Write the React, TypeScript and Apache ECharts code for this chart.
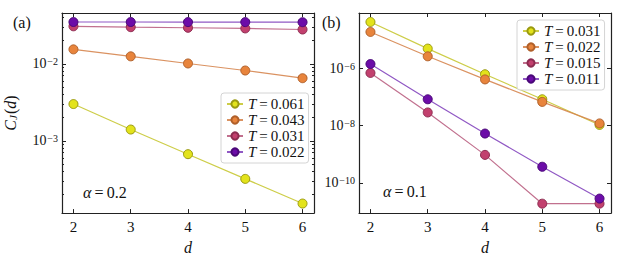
import React, { useEffect, useRef } from "react";
import * as echarts from "echarts";

const D = [2, 3, 4, 5, 6];
const X_TICKS = [2, 3, 4, 5, 6];

// panel (a): alpha = 0.2
const A_TEMPS = ["0.061", "0.043", "0.031", "0.022"];
const A_T061 = [3.0e-3, 1.4e-3, 6.7e-4, 3.2e-4, 1.53e-4];
const A_T043 = [0.0154, 0.0125, 0.0101, 0.00818, 0.0065];
const A_T031 = [0.0307, 0.0299, 0.0294, 0.0288, 0.0279];
const A_T022 = [0.0349, 0.0349, 0.0348, 0.0348, 0.0347];
const A_MAJOR_EXP = [-3, -2];

// panel (b): alpha = 0.1
const B_TEMPS = ["0.031", "0.022", "0.015", "0.011"];
const B_T031 = [4.27e-5, 4.99e-6, 6.3e-7, 8.4e-8, 1.06e-8];
const B_T022 = [1.91e-5, 2.68e-6, 4.16e-7, 6.8e-8, 1.2e-8];
const B_T015 = [7.0e-7, 2.9e-8, 9.5e-10, 1.86e-11, 1.86e-11];
const B_T011 = [1.44e-6, 8.4e-8, 5.3e-9, 3.65e-10, 2.8e-11];
const B_MAJOR_EXP = [-10, -8, -6];

const A_MIN = 1.15e-4;
const A_MAX = 0.0457;
const B_MIN = 8.7e-12;
const B_MAX = 8.8e-5;
const X_MIN = 1.8;
const X_MAX = 6.2;

const COLORS = [
  { fill: "#e3e31b", border: "#9a9a10", line: "rgba(196,196,40,0.85)" },
  { fill: "#e8843c", border: "#b0602a", line: "rgba(214,134,80,0.9)" },
  { fill: "#c2406e", border: "#8c2c50", line: "rgba(186,96,130,0.9)" },
  { fill: "#6c0ca8", border: "#4a0878", line: "rgba(132,70,190,0.9)" },
];

const FONT = "'Liberation Serif', 'DejaVu Serif', serif";
const AXIS_COLOR = "#222";

function minorPositions(lo: number, hi: number): number[] {
  const out: number[] = [];
  for (let n = Math.floor(lo) - 1; n <= Math.ceil(hi); n++) {
    for (let k = 2; k <= 9; k++) {
      const v = n + Math.log10(k);
      if (v > lo && v < hi) out.push(v);
    }
  }
  return out;
}

const labelRich = {
  b: { fontSize: 14, lineHeight: 14, fontFamily: FONT, color: "#111", verticalAlign: "bottom" },
  e: { fontSize: 10, lineHeight: 10, fontFamily: FONT, color: "#111", verticalAlign: "top", padding: [0, 0, 5, 1] },
};

function yOverlay(gridIndex: number, lo: number, hi: number, side: "left" | "right", ticks: number[], len: number, labels: boolean, showLine: boolean, extra: any = {}) {
  return {
    type: "value",
    gridIndex,
    position: side,
    min: lo,
    max: hi,
    splitLine: { show: false },
    axisLine: { show: showLine, onZero: false, lineStyle: { color: AXIS_COLOR, width: 1.2 } },
    axisTick: { show: true, inside: true, length: len, customValues: ticks, lineStyle: { color: AXIS_COLOR, width: 1 } },
    axisLabel: labels
      ? {
          show: true,
          margin: 4,
          customValues: ticks,
          fontFamily: FONT,
          formatter: (v: number) => `{b|10}{e|\u2212${Math.abs(Math.round(v))}}`,
          rich: labelRich,
        }
      : { show: false },
    ...extra,
  };
}

function xAxes(gridIndex: number) {
  return [
    {
      type: "value",
      gridIndex,
      position: "bottom",
      min: X_MIN,
      max: X_MAX,
      splitLine: { show: false },
      axisLine: { show: true, onZero: false, lineStyle: { color: AXIS_COLOR, width: 1.2 } },
      axisTick: { show: true, inside: true, length: 4, customValues: X_TICKS, lineStyle: { color: AXIS_COLOR } },
      axisLabel: { show: true, margin: 6, customValues: X_TICKS, fontSize: 15, fontFamily: FONT, color: "#111" },
      name: "d",
      nameLocation: "middle",
      nameGap: 14,
      nameTextStyle: { fontSize: 16, fontStyle: "italic", fontFamily: FONT, color: "#111" },
    },
    {
      type: "value",
      gridIndex,
      position: "top",
      min: X_MIN,
      max: X_MAX,
      splitLine: { show: false },
      axisLine: { show: true, onZero: false, lineStyle: { color: AXIS_COLOR, width: 1.2 } },
      axisTick: { show: true, inside: true, length: 4, customValues: X_TICKS, lineStyle: { color: AXIS_COLOR } },
      axisLabel: { show: false },
    },
  ];
}

function makeSeries(prefix: string, temps: string[], values: number[][], xIdx: number, yIdx: number) {
  return temps.map((t, i) => ({
    type: "line",
    name: `${prefix}:${t}`,
    xAxisIndex: xIdx,
    yAxisIndex: yIdx,
    data: D.map((d, j) => [d, values[i][j]]),
    symbol: "circle",
    symbolSize: 9,
    lineStyle: { color: COLORS[i].line, width: 1.2 },
    itemStyle: { color: COLORS[i].fill, borderColor: COLORS[i].border, borderWidth: 1 },
    z: 3 + i,
  }));
}

function legend(prefix: string, temps: string[], left: number, top: number) {
  return {
    orient: "vertical",
    left,
    top,
    data: temps.map((t) => `${prefix}:${t}`),
    itemWidth: 16,
    itemHeight: 9,
    itemGap: 0,
    padding: [3, 4, 3, 5],
    borderColor: "#d4d4d4",
    borderWidth: 1,
    borderRadius: 3,
    backgroundColor: "rgba(255,255,255,0.85)",
    formatter: (name: string) => `{i|T}{n|\u2009=\u2009${name.split(":")[1]}}`,
    textStyle: {
      fontFamily: FONT,
      fontSize: 15,
      lineHeight: 16,
      color: "#111",
      rich: {
        i: { fontFamily: FONT, fontSize: 15, fontStyle: "italic", lineHeight: 16, color: "#111" },
        n: { fontFamily: FONT, fontSize: 15, lineHeight: 16, color: "#111" },
      },
    },
  };
}

export default function App() {
  const ref = useRef<HTMLDivElement>(null);
  useEffect(() => {
    if (!ref.current) return;
    const chart = echarts.init(ref.current, undefined, { renderer: "svg" });
    const aLo = Math.log10(A_MIN);
    const aHi = Math.log10(A_MAX);
    const bLo = Math.log10(B_MIN);
    const bHi = Math.log10(B_MAX);
    const aMinor = minorPositions(aLo, aHi);

    const option: any = {
      animation: false,
      backgroundColor: "#fff",
      textStyle: { fontFamily: FONT },
      grid: [
        { left: 62, top: 13, width: 252, height: 208 },
        { left: 359, top: 13, width: 252, height: 208 },
      ],
      xAxis: [...xAxes(0), ...xAxes(1)],
      yAxis: [
        // panel (a) data axis (log)
        { type: "log", gridIndex: 0, position: "left", min: A_MIN, max: A_MAX, show: false, logBase: 10 },
        yOverlay(0, aLo, aHi, "left", A_MAJOR_EXP, 4, true, true, {
          name: "{i|C}{s|J}{n|(}{i|d}{n|)}",
          nameLocation: "middle",
          nameRotate: 90,
          nameGap: 44,
          nameTextStyle: {
            fontFamily: FONT,
            rich: {
              i: { fontFamily: FONT, fontSize: 16, fontStyle: "italic", lineHeight: 16, color: "#111", verticalAlign: "top" },
              n: { fontFamily: FONT, fontSize: 16, lineHeight: 16, color: "#111", verticalAlign: "top" },
              s: { fontFamily: FONT, fontSize: 11, fontStyle: "italic", lineHeight: 11, color: "#111", verticalAlign: "bottom", padding: [6, 1, 0, 0] },
            },
          },
        }),
        yOverlay(0, aLo, aHi, "left", aMinor, 2, false, false),
        yOverlay(0, aLo, aHi, "right", A_MAJOR_EXP, 4, false, true),
        yOverlay(0, aLo, aHi, "right", aMinor, 2, false, false),
        // panel (b) data axis (log)
        { type: "log", gridIndex: 1, position: "left", min: B_MIN, max: B_MAX, show: false, logBase: 10 },
        yOverlay(1, bLo, bHi, "left", B_MAJOR_EXP, 4, true, true),
        yOverlay(1, bLo, bHi, "right", B_MAJOR_EXP, 4, false, true),
      ],
      legend: [legend("a", A_TEMPS, 221, 93), legend("b", B_TEMPS, 517, 20)],
      series: [
        ...makeSeries("a", A_TEMPS, [A_T061, A_T043, A_T031, A_T022], 0, 0),
        ...makeSeries("b", B_TEMPS, [B_T031, B_T022, B_T015, B_T011], 2, 5),
      ],
      graphic: [
        { type: "text", left: 13, top: 14, style: { text: "(a)", fontFamily: FONT, fontSize: 16, fill: "#111" } },
        { type: "text", left: 322, top: 14, style: { text: "(b)", fontFamily: FONT, fontSize: 16, fill: "#111" } },
        {
          type: "text",
          left: 83,
          top: 184,
          style: {
            text: "{i|\u03b1}{n|\u2009=\u20090.2}",
            rich: {
              i: { fontFamily: FONT, fontSize: 16, fontStyle: "italic", fill: "#111" },
              n: { fontFamily: FONT, fontSize: 16, fill: "#111" },
            },
          },
        },
        {
          type: "text",
          left: 383,
          top: 183,
          style: {
            text: "{i|\u03b1}{n|\u2009=\u20090.1}",
            rich: {
              i: { fontFamily: FONT, fontSize: 16, fontStyle: "italic", fill: "#111" },
              n: { fontFamily: FONT, fontSize: 16, fill: "#111" },
            },
          },
        },
      ],
    };
    chart.setOption(option);
    return () => chart.dispose();
  }, []);
  return <div ref={ref} style={{ position: "absolute", left: 0, top: 0, width: 623, height: 260 }} />;
}
